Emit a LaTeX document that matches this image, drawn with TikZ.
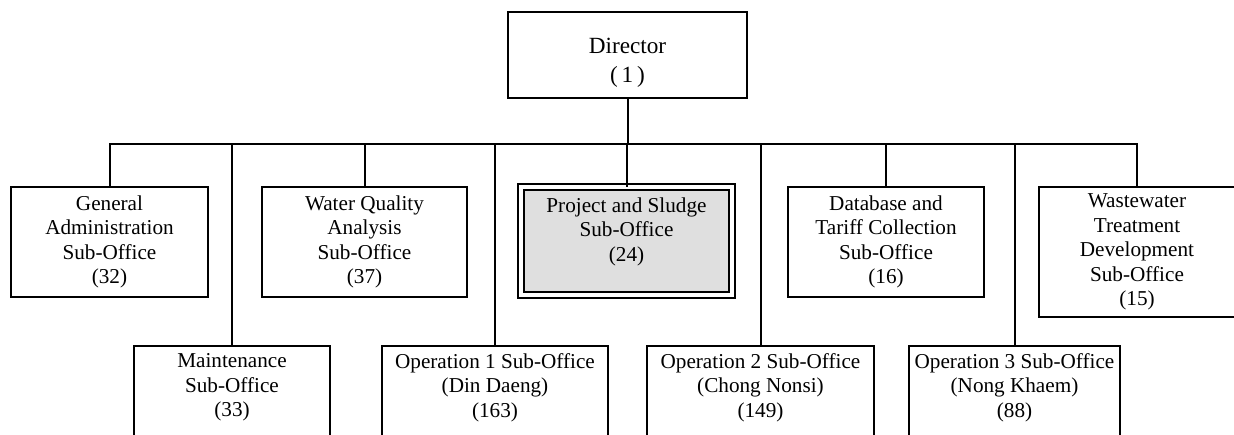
\documentclass[tikz,border=0pt]{standalone}
\usepackage{fontspec}
\setmainfont{Liberation Serif}
\newcommand\unitfont{\fontsize{21.2}{24.5}\selectfont}
\newcommand\headfont{\fontsize{23.2}{29}\selectfont}
\tikzset{
  unit/.style={draw, line width=2pt, align=center, inner sep=0pt,
    minimum height=110, font=\unitfont},
  head/.style={draw, line width=2pt, align=center, inner sep=0pt,
    minimum width=239, minimum height=86, font=\headfont},
  focus/.style={unit, fill=gray!25, line width=2.3pt, double=white,
    double distance=3.4pt, minimum width=211, minimum height=108},
  link/.style={line width=2pt}
}
\begin{document}
\begin{tikzpicture}[x=1pt,y=-1pt,line cap=rect,line join=miter]
  \useasboundingbox (0,0) rectangle (1234,434);
  \clip (0,0) rectangle (1234,434);
  \node[head] (dir) at (627.5,55) {\rule{0pt}{30pt}Director\\(\,1\,)};
  % upper row
  \node[unit,minimum width=197] (ga) at (109.5,242) {General\\Administration\\Sub-Office\\(32)};
  \node[unit,minimum width=205] (wq) at (364.5,242) {Water Quality\\Analysis\\Sub-Office\\(37)};
  \node[focus] (prj) at (626.5,241) {Project and Sludge\\Sub-Office\\(24)\\[-9pt]\strut};
  \node[unit,minimum width=196] (db) at (886,242) {Database and\\Tariff Collection\\Sub-Office\\(16)};
  \node[unit,minimum width=196,minimum height=130] (ww) at (1137,252) {Wastewater\\Treatment\\Development\\Sub-Office\\(15)};
  % lower row
  \node[unit,minimum width=196] (mnt) at (232,401) {Maintenance\\Sub-Office\\(33)\\\strut};
  \node[unit,minimum width=226] (op1) at (495,401) {Operation 1 Sub-Office\\(Din Daeng)\\(163)\\\strut};
  \node[unit,minimum width=227] (op2) at (760.5,401) {Operation 2 Sub-Office\\(Chong Nonsi)\\(149)\\\strut};
  \node[unit,minimum width=211] (op3) at (1014.5,401) {Operation 3 Sub-Office\\(Nong Khaem)\\(88)\\\strut};
  % connectors
  \foreach \n in {ga,mnt,wq,op1,prj,op2,db,op3,ww}
    \draw[link] (dir.south) -- ++(0,45) -| (\n.north);
\end{tikzpicture}
\end{document}
